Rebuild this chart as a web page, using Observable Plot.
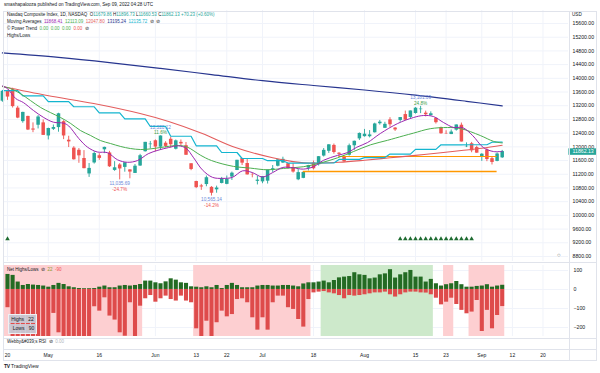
<!DOCTYPE html>
<html><head><meta charset="utf-8">
<script src="https://cdn.jsdelivr.net/npm/d3@7"></script>
<script src="https://cdn.jsdelivr.net/npm/@observablehq/plot@0.6"></script>
<style>
body{margin:0;background:#fff;}
#wrap{position:relative;width:600px;height:373px;overflow:hidden;font-family:"Liberation Sans",Arial,sans-serif;color:#131722;background:#fff;}
.abs{position:absolute;white-space:pre;line-height:1;}
.pane{position:absolute;left:0;}
.ln{position:absolute;background:#e0e3eb;}
</style></head><body><div id="wrap"></div>
<script>
// ---------- DATA ----------
const firstIndex = -1; // Apr 19, 2022 ... Sep 08, 2022 (trading-day index, Apr 20 = 0)
const opens  = [13332,13640,13664,13130,12736,12888,12521,12631,12700,12318,12511,12562,12734,12194,11963,11900,11660,11209,11530,11740,11914,11822,11312,11472,11400,11327,11224,11440,11858,12063,12178,11990,12106,12221,11931,12131,12034,11507,10988,10860,10900,10818,10746,10932,10905,11119,11309,11661,11514,11186,10993,10978,10998,11326,11434,11527,11509,11394,11039,11080,11377,11529,11476,11731,11871,12042,11814,11720,11756,12031,12233,12297,12296,12411,12675,12541,12787,12548,12771,12942,12858,12973,13085,12983,12913,12831,12560,12391,12359,12487,12631,12002,12091,11979,11710,11909,11655,11576,11679.86];
const highs  = [13647,13650,13711,13180,13010,12893,12700,12913,12787,12546,12637,12980,12764,12309,12006,11950,11890,11514,11856,11800,11991,11869,11568,11510,11536,11331,11485,11781,12131,12157,12203,12320.12,12150,12281,12200,12200,12127,11509,10997,10905,11148,10840,10853,11108,11148,11264,11608,11662,11635,11235,11144,11131,11325,11455,11636,11698,11513,11507,11342,11273,11461,11586,11718,11951,12063,12082,11832,11736,12081,12169,12406,12509,12475,12691,12770,12717,12852,12565,12853,13044,13047,13145,13181.09,13042,13022,12844,12575,12469,12492,12639,12695,12116,12130,12020,11800,11943,11695,11823,11896.73];
const lows   = [13300,13356,13133,12822,12690,12476,12414,12523,12334,12202,12477,12427,12211,11980,11612,11520,11359,11108,11497,11607,11802,11399,11286,11035.69,11260,11068,11222,11431,11847,11936,11858,11901,11970,11967,11910,12021,11754,11304,10781,10730,10835,10565.14,10647,10919,10895,11019,11307,11455,11177,11096,10889,10924,10915,11253,11416,11514,11350,11234,11013,11070,11296,11327,11440,11703,11808,11786,11703,11547,11729,11899,12184,12283,12262,12403,12634,12540,12571,12450,12719,12760,12818,12955,12970,12874,12895,12666,12367,12361,12358,12459,12141,11979,11828,11812,11575,11567,11471,11565,11660.53];
const closes = [13619.66,13453.07,13174.65,12839.29,13004.85,12490.74,12488.93,12871.53,12334.64,12536.02,12563.76,12964.86,12317.69,12144.66,11623.25,11737.67,11364.24,11370.96,11805.00,11662.79,11984.52,11418.15,11388.50,11354.62,11535.27,11264.45,11434.74,11740.65,12131.13,12081.39,11994.46,12316.90,12012.73,12061.37,12175.23,12086.27,11754.23,11340.02,10809.23,10828.35,11099.15,10646.10,10798.35,11069.30,11053.08,11232.19,11607.62,11524.55,11181.54,11177.89,11028.74,11127.85,11322.24,11361.85,11621.35,11635.31,11372.60,11264.73,11247.58,11251.19,11452.42,11360.05,11713.15,11897.65,12059.61,11834.11,11782.67,11562.58,12032.42,12162.59,12390.69,12368.98,12348.76,12668.16,12720.58,12657.56,12644.46,12493.93,12854.81,12779.91,13047.19,13128.05,13102.55,12938.12,12965.34,12705.22,12381.57,12381.30,12431.53,12639.27,12141.71,12017.67,11883.14,11816.20,11785.13,11630.86,11544.91,11791.90,11862.13];

// moving averages: [bar index, value]
const maFast = [[-1,13780],[0,13700],[1.6,13411],[3.1,13294],[5.1,13060],[7.1,12856],[9,12720],[11,12690],[12,12610],[14,12240],[15.7,11990],[17.6,11850],[19.6,11830],[21.6,11620],[23.5,11550],[25.5,11600],[27.6,11800],[29.5,11900],[31.6,11980],[33.5,12030],[35,11960],[36.5,11680],[38.2,11330],[40.2,11110],[42.2,11080],[44.1,11110],[46.1,11300],[48,11250],[50,11120],[52,11250],[54,11400],[56,11390],[58,11350],[60,11420],[62,11610],[64.7,11750],[66.7,11834],[68.5,11990],[70.6,12126],[73.1,12389],[76.5,12681],[79.6,12856],[81.6,12915],[83.5,12886],[85.5,12710],[87.5,12564],[89.2,12564],[91.2,12331],[93.3,11980],[95.3,11863],[97,11868.41]];
const maMid = [[-1,13760],[0.6,13703],[2.5,13557],[4.5,13352],[6.5,13148],[8.4,13002],[10.4,12856],[12.4,12681],[14.3,12477],[16.3,12331],[18.2,12185],[20.2,12097],[22.2,12010],[24.1,11951],[26.1,11922],[28,11940],[30,11980],[33.5,12039],[35.3,11990],[37.8,11760],[40,11600],[44.3,11430],[47.6,11380],[51,11330],[54.1,11370],[58,11420],[61.4,11530],[64.7,11680],[67.8,11860],[71.2,12060],[74.5,12190],[77.6,12320],[79.6,12400],[82.9,12530],[86.3,12564],[88.8,12535],[92.7,12331],[95.3,12160],[97,12113.09]];
const ma50 = [[-1,13760],[7.8,13498],[16.9,13265],[26,12973],[31.6,12740],[38.2,12390],[44.7,11980],[52,11680],[56,11570],[60,11520],[65,11550],[70,11610],[75,11680],[80,11750],[85,11830],[89,11893],[93,11960],[97,12047.80]];
const ma200 = [[-1,14740],[10,14610],[20,14460],[30,14290],[40,14110],[50,13930],[60,13790],[70,13660],[80,13510],[90,13330],[97,13195.24]];
// 10-week average (one value per week, first bar index of each week)
const weekStarts = [-1,3,8,13,18,23,28,32,37,42,46,51,55,60,65,70,75,80,85,90,95];
const weeklyMA   = [13640,13490,13320,13170,12990,12815,12595,12310,12030,11835,11660,11596,11527,11529,11633,11686,11789,11926,12060,12062,12135.72];

// horizontal levels
const levels = [{level:11280, from:58, to:96, w:1.6},{level:11718, from:65, to:96, w:1.1}];
// power trend markers
const powerTrend = [0,77,78,79,80,81,82,83,84,85,86,87,88,89,90,91];
// pivot annotations
const pivots = [
  {i:22, price:11035.69, pct:"-24.7%", kind:"low"},
  {i:30, price:12320.12, pct:"11.6%", kind:"high"},
  {i:40, price:10565.14, pct:"-14.2%", kind:"low"},
  {i:81, price:13181.09, pct:"24.8%", kind:"high"}
];

// Net highs / lows (bars index 0..97)
const netHighs = [79,74,39,21,26,23,21,18,12,21,32,26,14,9,5,4,4,5,12,18,9,9,18,21,18,21,26,44,44,35,30,40,56,49,35,32,14,12,9,14,9,21,5,21,32,21,9,9,9,18,21,21,18,18,21,21,18,14,29,35,35,39,44,35,47,61,65,68,88,77,74,56,60,77,82,104,60,77,88,100,65,65,39,53,30,18,25,30,42,25,12,12,16,18,25,12,18,22];
const netLows = [-96,-350,-350,-350,-350,-350,-350,-350,-350,-126,-228,-350,-350,-350,-350,-350,-350,-91,-114,-44,-140,-161,-228,-246,-70,-350,-88,-49,-32,-67,-49,-35,-53,-61,-35,-61,-70,-207,-350,-167,-350,-175,-114,-144,-132,-53,-49,-70,-149,-214,-149,-214,-70,-35,-35,-96,-105,-158,-198,-53,-18,-14,-11,-18,-23,-32,-49,-32,-35,-32,-28,-23,-18,-18,-14,-28,-40,-28,-18,-14,-14,-18,-19,-28,-46,-81,-67,-46,-79,-110,-128,-119,-58,-221,-110,-207,-137,-90];
const zoneFrom = [-1,37,62,86,91];
const zoneTo   = [26,59,83,87,97];
const zoneKind = ["bear","bear","bull","bear","bear"];

// time axis
const tickIdx    = [0,8,18,29,37,43,50,60,70,80,86,93,99,105];
const tickLabels = ["20","May","16","Jun","13","22","Jul","18","Aug","15","23","Sep","12","20"];
const priceTicks = d3.range(8800, 15601, 400);
const breadthTicks = [100,0,-100,-200];

// ---------- BUILD ----------
const UP="#26a69a", DN="#ef5350", GRID="#f0f3fa";
const FONT='"Liberation Sans",Arial,sans-serif';
const xDomain=[-0.784,110];
const candles = closes.map((c,k)=>({i:k+firstIndex,open:opens[k],high:highs[k],low:lows[k],close:c}));
const ups = candles.filter(d=>d.close>=d.open), downs = candles.filter(d=>d.close<d.open);
const cyan = candles.map(c=>{let w=0;while(w+1<weekStarts.length&&weekStarts[w+1]<=c.i)w++;return {i:c.i,v:weeklyMA[w]};});
const last = candles[candles.length-1];
const fmt = d3.format(",.2f");
const P = d=>d[0], V=d=>d[1];
const lowP=pivots.filter(d=>d.kind==="low"), highP=pivots.filter(d=>d.kind==="high");
const ticks = tickIdx.map((i,k)=>({i,label:tickLabels[k]}));

const wrap=document.getElementById("wrap");
function place(el,top){el.classList.add("pane");el.style.top=top+"px";wrap.appendChild(el);}

const price = Plot.plot({
  width:600,height:251,marginLeft:3,marginRight:32,marginTop:0,marginBottom:0,
  x:{domain:xDomain,axis:null},
  y:{domain:[8654,15979.4],axis:null},
  style:{fontFamily:FONT,fontSize:"5.2px",background:"transparent",overflow:"visible"},
  marks:[
    Plot.gridX(tickIdx,{stroke:GRID,strokeOpacity:1}),
    Plot.gridY(priceTicks,{stroke:GRID,strokeOpacity:1}),
    Plot.axisY(priceTicks,{anchor:"right",tickSize:0,tickPadding:4,textAnchor:"start",tickFormat:d=>d.toFixed(2),fill:"#131722"}),
    Plot.ruleX(ups,{x:"i",y1:"low",y2:"high",stroke:UP,strokeWidth:0.9}),
    Plot.ruleX(downs,{x:"i",y1:"low",y2:"high",stroke:DN,strokeWidth:0.9}),
    Plot.ruleX(ups,{x:"i",y1:"open",y2:"close",stroke:UP,strokeWidth:3.5}),
    Plot.ruleX(downs,{x:"i",y1:"open",y2:"close",stroke:DN,strokeWidth:3.5}),
    Plot.ruleY(levels,{y:"level",x1:"from",x2:"to",stroke:"#ff9800",strokeWidth:d=>d.w}),
    Plot.line(ma200,{x:P,y:V,stroke:"#27358f",strokeWidth:1.2,curve:"catmull-rom"}),
    Plot.line(ma50,{x:P,y:V,stroke:"#e35d5d",strokeWidth:1.1,curve:"catmull-rom"}),
    Plot.line(cyan,{x:"i",y:"v",stroke:"#13b5cf",strokeWidth:1.2}),
    Plot.line(maMid,{x:P,y:V,stroke:"#4caf50",strokeWidth:1,curve:"catmull-rom"}),
    Plot.line(maFast,{x:P,y:V,stroke:"#9c27b0",strokeWidth:1,curve:"catmull-rom"}),
    Plot.dot(powerTrend,{x:d=>d,frameAnchor:"bottom",dy:-22.5,symbol:"triangle",r:1.7,fill:"#1e6b30",stroke:"none"}),
    Plot.text(lowP,{x:"i",y:"price",text:d=>fmt(d.price),dy:3.2,fill:"#6c87d8",fontSize:4.7}),
    Plot.text(lowP,{x:"i",y:"price",text:"pct",dy:9.2,fill:"#ef5350",fontSize:4.7}),
    Plot.text(highP,{x:"i",y:"price",text:d=>fmt(d.price),dy:-8.8,fill:"#6c87d8",fontSize:4.7}),
    Plot.text(highP,{x:"i",y:"price",text:"pct",dy:-3,fill:"#43a047",fontSize:4.7}),
    Plot.ruleY([last.close],{x1:xDomain[1]+0.08,x2:xDomain[1]+5.5,stroke:UP,strokeWidth:6.5}),
    Plot.text([last.close],{y:d=>d,frameAnchor:"right",dx:4,textAnchor:"start",text:d=>d.toFixed(2),fill:"white"})
  ]
});
place(price,10);

const zones = zoneFrom.map((f,k)=>({from:f,to:zoneTo[k],kind:zoneKind[k]}));
const breadth = netHighs.map((h,k)=>({i:k,h,l:netLows[k]}));
const ind = Plot.plot({
  width:600,height:71,marginLeft:3,marginRight:32,marginTop:0,marginBottom:0,
  x:{domain:xDomain,axis:null},
  y:{domain:[-247.4,126],axis:null},
  style:{fontFamily:FONT,fontSize:"5.2px",background:"transparent",overflow:"visible"},
  marks:[
    Plot.gridX(tickIdx,{stroke:GRID,strokeOpacity:1}),
    Plot.gridY(breadthTicks,{stroke:GRID,strokeOpacity:1}),
    Plot.rect(zones.filter(d=>d.kind==="bear"),{x1:d=>d.from-0.5,x2:d=>d.to+0.5,fill:"#fdcfd1",clip:true}),
    Plot.rect(zones.filter(d=>d.kind==="bull"),{x1:d=>d.from-0.5,x2:d=>d.to+0.5,fill:"#cde9cb",clip:true}),
    Plot.ruleX(breadth,{x:"i",y1:0,y2:"l",stroke:"#de4b4b",strokeWidth:4.1,clip:true}),
    Plot.ruleX(breadth,{x:"i",y1:0,y2:"h",stroke:"#236b23",strokeWidth:4.1,clip:true}),
    Plot.axisY(breadthTicks,{anchor:"right",tickSize:0,tickPadding:5,textAnchor:"start",fill:"#131722"})
  ]
});
place(ind,265);

const tAxis = Plot.plot({
  width:600,height:11,marginLeft:3,marginRight:32,marginTop:0,marginBottom:0,
  x:{domain:xDomain,axis:null},
  style:{fontFamily:FONT,fontSize:"5px",background:"transparent",overflow:"visible"},
  marks:[Plot.text(ticks,{x:"i",text:"label",frameAnchor:"middle",fill:"#131722"})]
});
place(tAxis,349);

// frame lines
function line(l,t,w,h){const d=document.createElement("div");d.className="ln";Object.assign(d.style,{left:l+"px",top:t+"px",width:w+"px",height:h+"px"});wrap.appendChild(d);}
line(3,11,594,0.6); line(3,261.5,594,0.8); line(3,338,594,0.6); line(3,349,594,0.6); line(3,360,594,0.6);
line(3,11,0.6,349); line(568.5,11,0.6,349); line(596,11,0.6,349);

// texts
function txt(html,l,t,size,color,extra){const d=document.createElement("div");d.className="abs";d.innerHTML=html;Object.assign(d.style,{left:l+"px",top:t+"px",fontSize:size+"px",color:color||"#131722"},extra||{});wrap.appendChild(d);return d;}
txt("smashapalooza published on TradingView.com, Sep 09, 2022 04:28 UTC",4,3.4,4.6,"#131722");
const T="#26a69a";
txt(`Nasdaq Composite Index, 1D, NASDAQ  O<span style="color:${T}">11679.86</span> H<span style="color:${T}">11896.73</span> L<span style="color:${T}">11660.53</span> C<span style="color:${T}">11862.13</span> <span style="color:${T}">+70.23 (+0.60%)</span>`,7,13.4,4.5);
txt(`Moving Averages  <span style="color:#9c27b0">11868.41</span>  <span style="color:#4caf50">12113.09</span>  <span style="color:#e35d5d">12047.80</span>  <span style="color:#27358f">13195.24</span>  <span style="color:#13b5cf">12135.72</span>  ⊘  ⊘`,7,20.4,4.5);
txt(`© Power Trend  <span style="color:#4caf50">0.00  0.00  0.00</span>  <span style="color:#ef5350">0.00</span>  ⊘`,7,27.1,4.5);
txt("Highs/Lows",7,33.8,4.5);
txt("USD",572,12.5,4.6);
txt("○",557,251.5,6,"#555");
txt(`Net Highs/Lows  ⊘  <span style="color:#8c9a2e">22</span>  <span style="color:#ef5350">-90</span>`,7,268.4,4.5);
txt(`Webby&amp;#039;s RSI  ⊘  <span style="color:#b2b5be">0.00</span>`,7,339.6,4.5);
const box=txt(`<div style="background:rgba(200,205,216,0.92);padding:1.6px 2px;margin-bottom:1px">Highs&nbsp;&nbsp; 22</div><div style="background:rgba(200,205,216,0.92);padding:1.6px 2px 1.6px 3.5px">Lows&nbsp;&nbsp; 90</div>`,8.3,314.3,5,"#131722",{border:"0.6px solid #eef0f4"});
txt(`<b style="letter-spacing:-0.3px">TV</b> TradingView`,4,363.5,5,"#131722");
</script></body></html>
